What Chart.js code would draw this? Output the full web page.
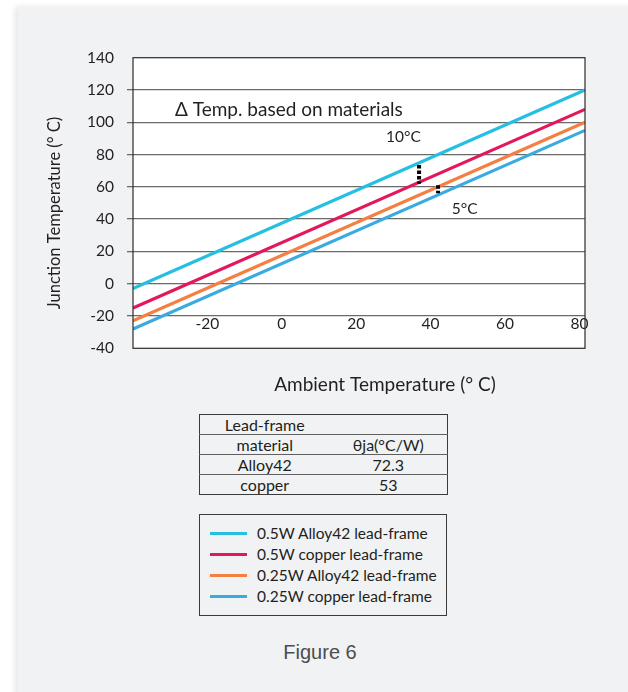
<!DOCTYPE html>
<html>
<head>
<meta charset="utf-8">
<script src="https://cdn.jsdelivr.net/npm/chart.js@4.4.1/dist/chart.umd.min.js"></script>
<style>
  html, body { margin:0; padding:0; background:#ffffff; width:628px; height:692px; overflow:hidden; }
  body { font-family: Lato, "Open Sans", sans-serif; color:#231f20; }
  #card { position:absolute; left:18px; top:7px; width:650px; height:720px; background:#f1f2f4; box-shadow:-3px 0 6px rgba(0,0,0,0.10); }
  #wrap { position:absolute; left:0; top:0; width:628px; height:400px; }
  #tbl { position:absolute; left:199px; top:414px; width:248px; border-collapse:collapse; table-layout:fixed; border:1px solid #3a3a3a; font-size:16px; }
  #tbl td { height:19px; line-height:19px; padding:0; text-align:center; border-bottom:1.6px solid #5f5f5f; white-space:nowrap; }
  #tbl tr:last-child td { border-bottom:none; }
  #legend { position:absolute; left:199px; top:514px; width:248px; height:102px; box-sizing:border-box; border:1px solid #3a3a3a; padding-top:8px; font-size:15.5px; }
  .item { height:21px; line-height:21px; display:flex; align-items:center; white-space:nowrap; }
  .sw { width:37px; height:3px; margin-left:10px; margin-right:10px; flex:none; }
  #fig { position:absolute; left:0; width:640px; top:641px; text-align:center; font-family:"Liberation Sans", Arial, sans-serif; font-size:20px; color:#4d4d4d; }
</style>
</head>
<body>
<div id="card"></div>
<div id="wrap"><canvas id="c"></canvas></div>
<table id="tbl"><colgroup><col style="width:130px"><col style="width:118px"></colgroup><tbody id="tbody"></tbody></table>
<div id="legend"></div>
<div id="fig">Figure 6</div>
<script>
// ---- data ----
const xValues = [-40, 81.5];                     // ambient temperature (°C), left and right edge of the plot
const alloy42HalfW = [-3, 120];                   // 0.5W Alloy42 lead-frame
const copperHalfW = [-15, 108];                   // 0.5W copper lead-frame
const alloy42QuarterW = [-23, 100];               // 0.25W Alloy42 lead-frame
const copperQuarterW = [-28, 95];                 // 0.25W copper lead-frame
const seriesLabels = ['0.5W Alloy42 lead-frame', '0.5W copper lead-frame', '0.25W Alloy42 lead-frame', '0.25W copper lead-frame'];
const yTicks = [-40, -20, 0, 20, 40, 60, 80, 100, 120, 140];
const xTicks = [-20, 0, 20, 40, 60, 80];
const delta10X = [36.9, 36.9];
const delta10Y = [73.5, 62];
const delta5X = [42, 42];
const delta5Y = [61, 56];
const noteTexts = ['Δ Temp. based on materials', '10°C', '5°C'];
const noteX = [-28.7, 28, 45.7];
const noteY = [107.6, 91, 46];
const xTitle = 'Ambient Temperature (° C)';
const yTitle = 'Junction Temperature (° C)';
const tableHead = ['Lead-frame', ''];
const tableCols = ['material', 'θja(°C/W)'];
const materials = ['Alloy42', 'copper'];
const thetaJA = ['72.3', '53'];

// ---- styles ----
const FONT = 'Lato, "Open Sans", sans-serif';
const TEXT = '#231f20';
const colors = ['#25bfe1', '#e2185b', '#f57f43', '#3aabe0'];
const series = [alloy42HalfW, copperHalfW, alloy42QuarterW, copperQuarterW];

const datasets = series.map((arr, i) => ({
  label: seriesLabels[i],
  data: xValues.map((x, j) => ({ x: x, y: arr[j] })),
  borderColor: colors[i], backgroundColor: colors[i],
  borderWidth: 3.2, pointRadius: 0, fill: false, tension: 0, order: i + 1
}));
[[delta10X, delta10Y, 'Δ 10°C'], [delta5X, delta5Y, 'Δ 5°C']].forEach(([xs, ys, lbl]) => {
  datasets.push({
    label: lbl, marker: true,
    data: xs.map((x, j) => ({ x: x, y: ys[j] })),
    borderColor: '#000', backgroundColor: '#000',
    borderWidth: 4, borderDash: [3.5, 2], borderCapStyle: 'butt',
    pointRadius: 0, fill: false, order: -1
  });
});

const decor = {
  id: 'decor',
  beforeDraw(chart) {
    const { ctx, chartArea: a } = chart;
    ctx.save();
    ctx.fillStyle = '#ffffff';
    ctx.fillRect(a.left, a.top, a.right - a.left, a.bottom - a.top);
    ctx.restore();
  },
  afterDraw(chart) {
    const { ctx, chartArea: a, scales } = chart;
    ctx.save();
    ctx.strokeStyle = '#2b2b2b';
    ctx.lineWidth = 1.2;
    ctx.strokeRect(a.left, a.top, a.right - a.left, a.bottom - a.top);
    ctx.fillStyle = TEXT;
    ctx.textBaseline = 'middle';
    ctx.textAlign = 'left';
    noteTexts.forEach((t, i) => {
      ctx.font = (i === 0 ? '19px ' : '15.5px ') + FONT;
      ctx.fillText(t, scales.x.getPixelForValue(noteX[i]), scales.y.getPixelForValue(noteY[i]));
    });
    ctx.textAlign = 'center';
    ctx.font = '19px ' + FONT;
    ctx.fillText(xTitle, 385, 385);
    ctx.translate(55, 213);
    ctx.rotate(-Math.PI / 2);
    ctx.font = '16.5px ' + FONT;
    ctx.fillText(yTitle, 0, 0);
    ctx.restore();
  }
};

const chart = new Chart(document.getElementById('c'), {
  type: 'line',
  data: { datasets: datasets },
  options: {
    responsive: true, maintainAspectRatio: false, animation: false,
    layout: { padding: { left: 0, top: 57.7, right: 43, bottom: 0 } },
    plugins: { legend: { display: false }, tooltip: { enabled: false } },
    scales: {
      x: {
        type: 'linear', min: xValues[0], max: xValues[xValues.length - 1],
        afterBuildTicks: s => { s.ticks = xTicks.map(v => ({ value: v })); },
        afterFit: s => { s.height = 51.7; },
        grid: { display: false, drawTicks: false },
        border: { display: false },
        ticks: { mirror: true, padding: 15, color: TEXT, font: { family: FONT, size: 15.5 }, maxRotation: 0, autoSkip: false }
      },
      y: {
        type: 'linear', min: yTicks[0], max: yTicks[yTicks.length - 1],
        afterBuildTicks: s => { s.ticks = yTicks.map(v => ({ value: v })); },
        afterFit: s => { s.width = 133; },
        grid: {
          color: c => (c.tick && (c.tick.value === yTicks[0] || c.tick.value === yTicks[yTicks.length - 1])) ? 'rgba(0,0,0,0)' : '#6a6a6a',
          lineWidth: 1.3, tickLength: 6
        },
        border: { display: false },
        ticks: { padding: 13, color: TEXT, font: { family: FONT, size: 15.5 } }
      }
    }
  },
  plugins: [decor]
});

// ---- table ----
const tbody = document.getElementById('tbody');
const rows = [tableHead, tableCols].concat(materials.map((m, i) => [m, thetaJA[i]]));
rows.forEach(r => {
  const tr = document.createElement('tr');
  r.forEach(v => { const td = document.createElement('td'); td.textContent = v; tr.appendChild(td); });
  tbody.appendChild(tr);
});

// ---- legend built from the chart's series ----
const legend = document.getElementById('legend');
chart.data.datasets.filter(d => !d.marker).forEach(d => {
  const it = document.createElement('div'); it.className = 'item';
  const sw = document.createElement('span'); sw.className = 'sw'; sw.style.background = d.borderColor;
  const tx = document.createElement('span'); tx.textContent = d.label;
  it.appendChild(sw); it.appendChild(tx); legend.appendChild(it);
});
</script>
</body>
</html>
